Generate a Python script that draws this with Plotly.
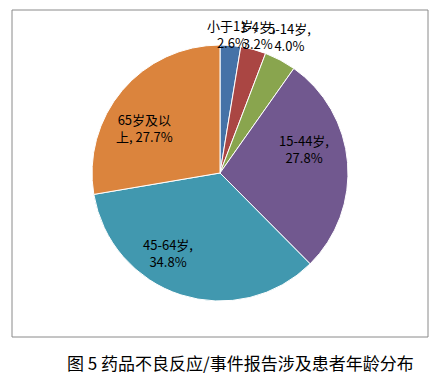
import math
import plotly.graph_objects as go

categories = ["小于1岁", "1-4岁", "5-14岁", "15-44岁", "45-64岁", "65岁及以上"]
values = [2.6, 3.2, 4.0, 27.8, 34.8, 27.7]
label_text = ["小于1岁,<br>2.6%", "1-4岁,<br>3.2%", "5-14岁,<br>4.0%",
              "15-44岁,<br>27.8%", "45-64岁,<br>34.8%", "65岁及以<br>上, 27.7%"]
colors = ["#4572A7", "#AA4643", "#89A54E", "#71588F", "#4198AF", "#DB843D"]
caption = "图 5 药品不良反应/事件报告涉及患者年龄分布"

# layout-only nudges (px) for the inside labels, mimicking best-fit placement
label_nudge = [(0, 0), (0, 0), (0, 0), (-5, -17), (-25, -5), (-7, 13)]

W, H = 438, 380
CX, CY, R = 220, 173, 128   # pie centre and radius in pixels

fig = go.Figure(go.Pie(
    labels=categories,
    values=values,
    textinfo="none",
    sort=False,
    direction="clockwise",
    rotation=0,
    marker=dict(colors=colors, line=dict(color="white", width=1)),
    domain=dict(x=[(CX - R) / W, (CX + R) / W], y=[1 - (CY + R) / H, 1 - (CY - R) / H]),
    showlegend=False,
    hoverinfo="label+percent",
))

LABEL_FONT = dict(family="Noto Sans CJK SC, Noto Sans", size=13, color="black")

total = sum(values)
cum = 0.0
for v, txt, (dx, dy) in zip(values, label_text, label_nudge):
    mid = (cum + v / 2) / total * 2 * math.pi
    cum += v
    if v / total < 0.08:
        px = CX + 1.15 * R * math.sin(mid)
        py = CY - R - 12 + 8 * math.sin(mid)
    else:
        px = CX + 0.7 * R * math.sin(mid)
        py = CY - 0.7 * R * math.cos(mid)
    fig.add_annotation(text=txt, xref="paper", yref="paper",
                       x=px / W, y=1 - py / H, xanchor="center", yanchor="middle",
                       xshift=dx, yshift=-dy, showarrow=False, align="center",
                       font=LABEL_FONT)

fig.add_shape(type="rect", xref="paper", yref="paper",
              x0=12 / W, x1=428 / W, y0=1 - 337 / H, y1=1 - 10 / H,
              line=dict(color="#8a8a8a", width=1), fillcolor="rgba(0,0,0,0)")

fig.add_annotation(text=caption, xref="paper", yref="paper",
                   x=240 / W, y=1 - 362 / H, xanchor="center", yanchor="middle",
                   showarrow=False,
                   font=dict(family="Noto Sans CJK SC", size=17, color="black"))

fig.update_layout(width=W, height=H, margin=dict(l=0, r=0, t=0, b=0),
                  paper_bgcolor="white", plot_bgcolor="white")

fig.write_html("out.html", config={"displayModeBar": False},
               post_script="document.body.style.margin='0';document.body.style.overflow='hidden';")
